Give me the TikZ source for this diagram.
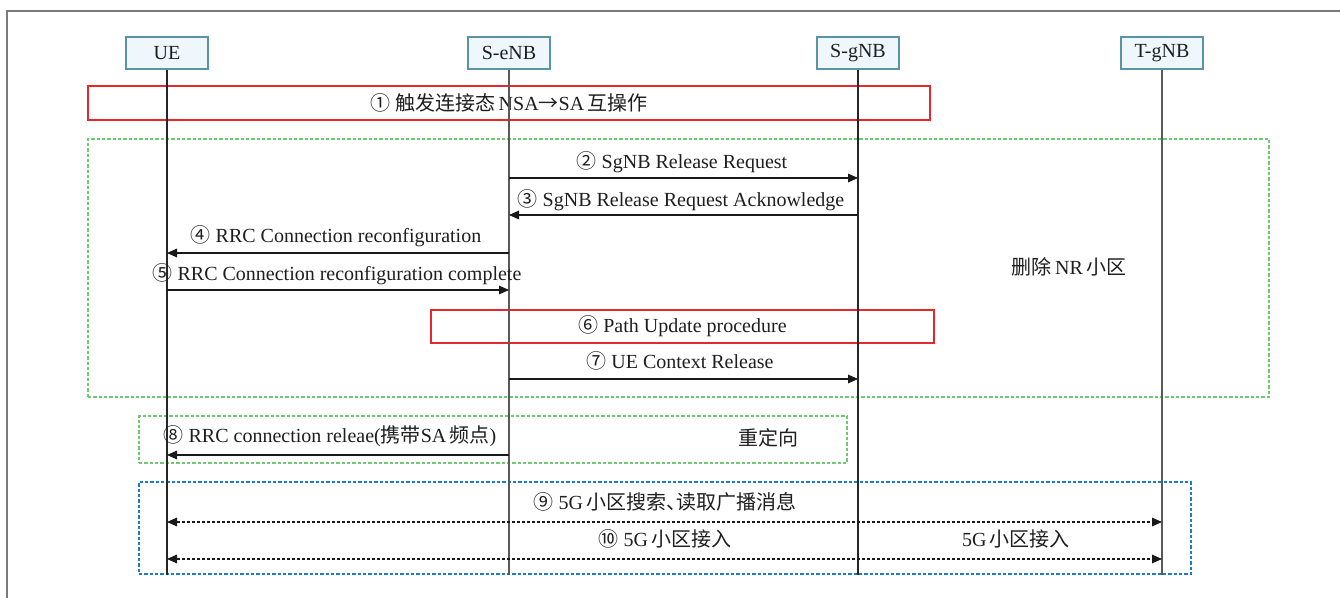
\documentclass[tikz,border=0pt]{standalone}
\usepackage{fontspec}
\setmainfont{Liberation Serif}
\newfontfamily\cjkfont{Noto Sans CJK SC}
\newcommand\zhc[1]{{\cjkfont #1}}
\usetikzlibrary{arrows.meta}
\definecolor{entfill}{HTML}{EEF7FB}
\definecolor{entline}{HTML}{5A93A3}
\definecolor{redbox}{HTML}{E8262E}
\definecolor{greenbox}{HTML}{6DCB6D}
\definecolor{bluebox}{HTML}{1C7BC6}
\definecolor{framegray}{HTML}{7A7A7A}
\definecolor{txt}{HTML}{1E1E1E}
\begin{document}
\begin{tikzpicture}[x=0.75pt,y=-0.75pt,
  entity/.style={draw=entline, fill=entfill, line width=0.8pt, minimum width=61.5pt, minimum height=24pt, inner sep=0pt, font=\fontsize{15}{18}\selectfont, text=txt},
  lifeline/.style={draw=black!85, line width=1pt},
  msgarrow/.style={draw=black!90, line width=0.8pt, -{Triangle[length=7.5pt,width=6.5pt]}},
  bidash/.style={draw=black!90, line width=0.8pt, dash pattern=on 2.25pt off 1.5pt, {Triangle[length=7.5pt,width=6.5pt]}-{Triangle[length=7.5pt,width=6.5pt]}},
  redframe/.style={draw=redbox, line width=0.9pt, inner sep=0pt, outer sep=0pt, font=\fontsize{15}{18}\selectfont, text=txt},
  greenframe/.style={draw=greenbox, line width=1pt, dash pattern=on 2.5pt off 1.5pt, inner sep=0pt, outer sep=0pt},
  blueframe/.style={draw=bluebox, line width=0.9pt, dash pattern=on 2.5pt off 1.5pt, inner sep=0pt, outer sep=0pt},
  lbl/.style={font=\fontsize{15}{18}\selectfont, inner sep=0pt, anchor=base, text=txt},
  outer/.style={draw=framegray, line width=1.5pt}
]
\useasboundingbox (0,0) rectangle (1340,598);

% outer frame
\coordinate (fr-bl) at (7,598);
\coordinate (fr-tl) at (7,11);
\coordinate (fr-tr) at (1340,11);
\draw[outer] (fr-bl) -- (fr-tl) -- (fr-tr);

% frames
\node[greenframe, minimum width=885.75pt, minimum height=193.5pt] (g1) at (678.5,268) {};
\node[greenframe, minimum width=531pt, minimum height=35.25pt] (g2) at (493,439.5) {};
\node[blueframe, minimum width=789pt, minimum height=69pt] (bl) at (665,528) {};
\node[redframe, minimum width=631.5pt, minimum height=25.5pt] (r1) at (509,103)
  {\zhc{①} \zhc{触发连接态}\,NSA\zhc{→}SA\,\zhc{互操作}};
\node[redframe, minimum width=377.25pt, minimum height=24.75pt] (r6) at (682.5,326.5)
  {\zhc{⑥} Path Update procedure};

% entities
\node[entity] (ue) at (167,53) {UE};
\node[entity] (senb) at (509,53) {S-eNB};
\node[entity] (sgnb) at (858,53) {S-gNB};
\node[entity] (tgnb) at (1162,53) {T-gNB};

% lifelines
\coordinate (ue-e) at (167,575);
\coordinate (senb-e) at (509,575);
\coordinate (sgnb-e) at (858,575);
\coordinate (tgnb-e) at (1162,575);
\draw[lifeline] (ue) -- (ue-e);
\draw[lifeline, draw=black!65] (senb) -- (senb-e);
\draw[lifeline] (sgnb) -- (sgnb-e);
\draw[lifeline, draw=black!65] (tgnb) -- (tgnb-e);

% messages
\draw[msgarrow] (senb |- 0,178) -- (sgnb |- 0,178);
\node[lbl] (t2) at (682,169) {\zhc{②} SgNB Release Request};
\draw[msgarrow] (sgnb |- 0,215) -- (senb |- 0,215);
\node[lbl] (t3) at (681,207) {\zhc{③} SgNB Release Request Acknowledge};
\draw[msgarrow] (senb |- 0,253) -- (ue |- 0,253);
\node[lbl] (t4) at (336,243) {\zhc{④} RRC Connection reconfiguration};
\draw[msgarrow] (ue |- 0,290) -- (senb |- 0,290);
\node[lbl] (t5) at (337,281) {\zhc{⑤} RRC Connection reconfiguration complete};
\draw[msgarrow] (senb |- 0,379) -- (sgnb |- 0,379);
\node[lbl] (t7) at (680,369) {\zhc{⑦} UE Context Release};
\node[lbl] (tdel) at (1069,275) {\zhc{删除}\,NR\,\zhc{小区}};

\draw[msgarrow] (senb |- 0,455) -- (ue |- 0,455);
\node[lbl] (t8) at (330,443) {\zhc{⑧} RRC connection releae(\zhc{携带}SA\,\zhc{频点})};
\node[lbl] (tred) at (768,446) {\zhc{重定向}};

\draw[bidash] (ue |- 0,522) -- (tgnb |- 0,522);
\node[lbl] (t9) at (665,510) {\zhc{⑨} 5G\,\zhc{小区搜索、\kern-0.5em读取广播消息}};
\draw[bidash] (ue |- 0,559) -- (tgnb |- 0,559);
\node[lbl] (t10) at (665,547) {\zhc{⑩} 5G\,\zhc{小区接入}};
\node[lbl] (t10b) at (1016,547) {5G\,\zhc{小区接入}};
\end{tikzpicture}
\end{document}
